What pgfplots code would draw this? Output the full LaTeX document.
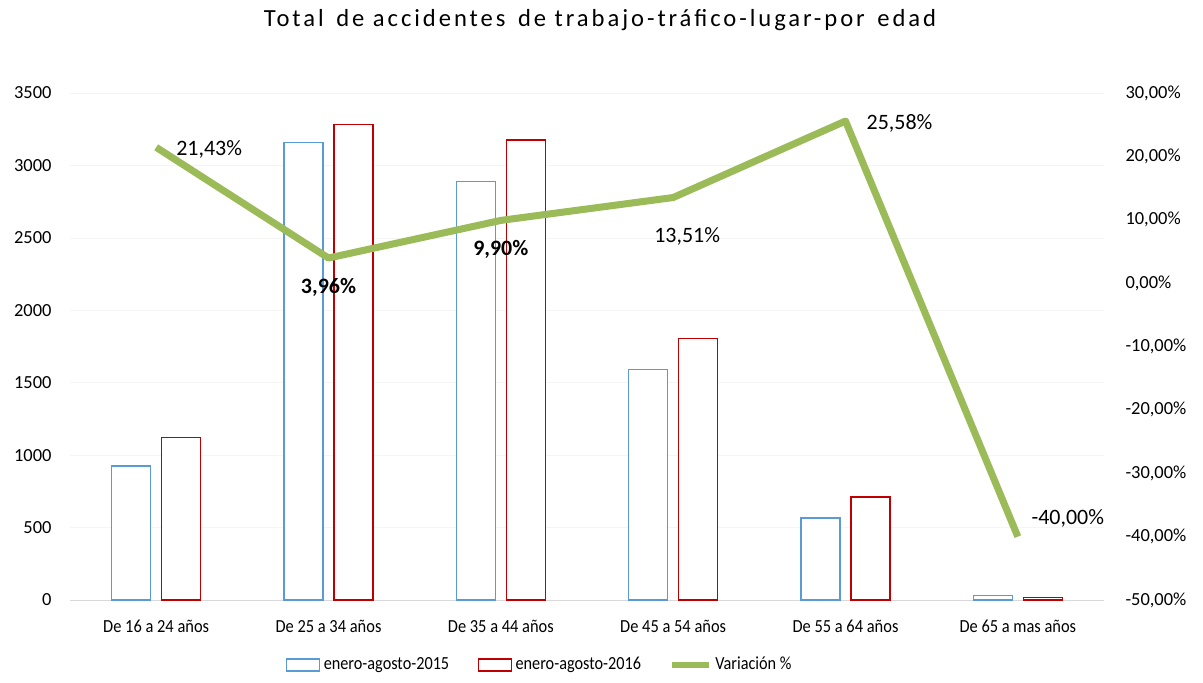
\documentclass[border=0pt]{standalone}
\usepackage{fontspec}
\setmainfont{Carlito}
\usepackage{pgfplots}
\pgfplotsset{compat=1.18}
\usepackage{pgfplotstable}

\definecolor{azul}{HTML}{5B9BD5}
\definecolor{rojo}{HTML}{C00000}
\definecolor{verde}{HTML}{9BBB59}

% datos
\pgfplotstableread{
x   a2015 a2016
0   924   1122
1   3157  3282
2   2889  3175
3   1592  1807
4   567   712
5   30    18
}\datosbarras

\pgfplotstableread{
x  var    dx    dy     lab
0  21.43  1.06  -0.04  {21,43\%}
1  3.96   0     -0.58  {\textbf{3,96\%}}
2  9.90   0     -0.58  {\textbf{9,90\%}}
3  13.51  0.28  -0.78  {13,51\%}
4  25.58  1.08  -0.04  {25,58\%}
5  -40.00 1.00  0.36   {-40,00\%}
}\datoslinea

\begin{document}
\fontsize{10.5}{12}\selectfont
\begin{tikzpicture}
\path[use as bounding box] (-1.4,-1.64) rectangle (22.66,12.0);

\begin{axis}[
    name=izq,
    at={(0,0)}, anchor=south west,
    scale only axis,
    width=20.68cm, height=10.14cm,
    xmin=-0.5, xmax=5.5,
    ymin=0, ymax=3500,
    ytick={0,500,...,3500},
    xtick={0,...,5},
    xticklabels={De 16 a 24 años, De 25 a 34 años, De 35 a 44 años, De 45 a 54 años, De 55 a 64 años, De 65 a mas años},
    major tick length=0pt,
    axis y line*=left,
    axis x line*=bottom,
    y axis line style={draw=none},
    x axis line style={draw=gray!30},
    ymajorgrids=true,
    grid style={gray!8},
    /pgf/number format/assume math mode=true,
    /pgf/number format/1000 sep={},
    yticklabel style={xshift=-0.24cm, font=\fontsize{10.5}{12}\selectfont},
    xticklabel style={yshift=-0.28cm, font=\fontsize{10.5}{12}\selectfont\addfontfeature{FakeStretch=0.89}},
    legend style={at={(0.455,-0.128)}, anchor=center, draw=none, legend columns=-1,
        font=\fontsize{10.5}{12}\selectfont\addfontfeature{FakeStretch=0.88},
        /tikz/every even column/.append style={column sep=0.5cm}},
    legend image code/.code={\draw[#1] (0cm,-0.12cm) rectangle (0.66cm,0.12cm);},
]
\addplot[draw=azul, line width=0.8pt, fill=white, ybar, bar width=0.227, bar shift=-0.145]
    table[x=x, y=a2015] {\datosbarras};
\addlegendentry{enero-agosto-2015}
\addplot[draw=rojo, line width=0.8pt, fill=white, ybar, bar width=0.227, bar shift=0.145]
    table[x=x, y=a2016] {\datosbarras};
\addlegendentry{enero-agosto-2016}
\addlegendimage{legend image code/.code={\draw[verde, line width=3pt] (0cm,0cm) -- (0.74cm,0cm);}}
\addlegendentry{Variación \%}
\end{axis}

\begin{axis}[
    at={(0,0)}, anchor=south west,
    scale only axis,
    width=20.68cm, height=10.14cm,
    xmin=-0.5, xmax=5.5,
    ymin=-50, ymax=30,
    ytick={-50,-40,...,30},
    axis y line*=right,
    axis x line=none,
    y axis line style={draw=none},
    major tick length=0pt,
    yticklabel={\pgfmathprintnumber[fixed,fixed zerofill,precision=2,use comma,assume math mode=true]{\tick}\%},
    yticklabel style={anchor=west, xshift=0.3cm, font=\fontsize{10.5}{12}\selectfont},
    clip=false,
]
\addplot[verde, line width=4pt, line join=round, mark=none] table[x=x, y=var] {\datoslinea};
\addplot[draw=none, mark=none,
    point meta=explicit symbolic,
    visualization depends on={\thisrow{dx}\as\dx},
    visualization depends on={\thisrow{dy}\as\dy},
    nodes near coords={\pgfplotspointmeta},
    nodes near coords style={anchor=center, xshift=\dx cm, yshift=\dy cm, font=\fontsize{12.5}{14}\selectfont, text=black}]
    table[x=x, y=var, meta=lab] {\datoslinea};
\end{axis}

\node[font=\fontsize{14}{16}\selectfont\addfontfeature{LetterSpace=12}] at (10.6,11.6)
    {Total\, de accidentes\, de trabajo-tráfico-lugar-por\, edad};
\end{tikzpicture}
\end{document}
